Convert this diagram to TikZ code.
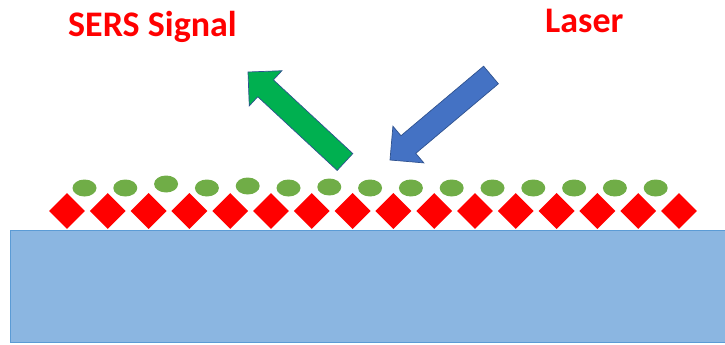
\documentclass[tikz,border=0pt]{standalone}
\usepackage{fontspec}
\setmainfont{Carlito}
\usetikzlibrary{shapes.geometric,calc}

\definecolor{sersred}{HTML}{FF0000}
\definecolor{molgreen}{HTML}{70AD47}
\definecolor{sigreen}{HTML}{00B050}
\definecolor{laserblue}{HTML}{4472C4}
\definecolor{edgeblue}{HTML}{2F528F}
\definecolor{subfill}{HTML}{8BB6E1}
\definecolor{subedge}{HTML}{5B9BD5}

\tikzset{
  particle/.style={diamond, fill=sersred, draw=none, inner sep=0pt,
    minimum width=36pt, minimum height=36pt},
  molecule/.style={ellipse, fill=molgreen, draw=none, inner sep=0pt,
    minimum width=24pt, minimum height=17pt},
  label text/.style={text=sersred, font=\bfseries\fontsize{36}{40}\selectfont,
    inner sep=0pt},
  substrate/.style={fill=subfill, draw=subedge, line width=0.8pt},
  arrowbody/.style={draw=edgeblue, line width=0.7pt, line join=miter}
}

% block arrow from #1 (tail) to #2 (tip), shaft half width 11.5pt, head half width 24pt
\newcommand{\blockarrowpath}[3]{%
  \coordinate (#3h) at ($(#2)!24pt!(#1)$);
  \path[#3] ($(#1)!11.5pt!90:(#2)$) -- ($(#3h)!11.5pt!90:(#2)$)
    -- ($(#3h)!24pt!90:(#2)$) -- (#2) -- ($(#3h)!24pt!-90:(#2)$)
    -- ($(#3h)!11.5pt!-90:(#2)$) -- ($(#1)!11.5pt!-90:(#2)$) -- cycle;
}

\begin{document}
\begin{tikzpicture}[x=1pt,y=-1pt]
  \useasboundingbox (0,0) rectangle (725,345);

  % substrate
  \path[substrate] (10,230) rectangle (726,342);

  % metal nanoparticles on the surface
  \foreach \i in {0,...,15}
    \node[particle] (p\i) at ({67+40.8*\i},211) {};

  % adsorbed molecules
  \foreach \i/\dy in {0/0,1/0,2/-4,3/0,4/-2,5/0,6/-1,7/0,8/0,9/0,10/0,11/0,12/0,13/0,14/0}
    \node[molecule] (m\i) at ({84.5+40.8*\i},{188+\dy}) {};

  % scattered signal and incident laser
  \coordinate (gtail) at (345,162);
  \coordinate (gtip) at (248,72);
  \coordinate (btail) at (491,75);
  \coordinate (btip) at (390,160);
  \tikzset{gfill/.style={arrowbody, fill=sigreen}, bfill/.style={arrowbody, fill=laserblue}}
  \blockarrowpath{gtail}{gtip}{gfill}
  \blockarrowpath{btail}{btip}{bfill}

  % labels
  \node[label text, anchor=base west] (sers) at (68,37) {SERS Signal};
  \node[label text, anchor=base west] (laser) at (545,33) {Laser};
\end{tikzpicture}
\end{document}
